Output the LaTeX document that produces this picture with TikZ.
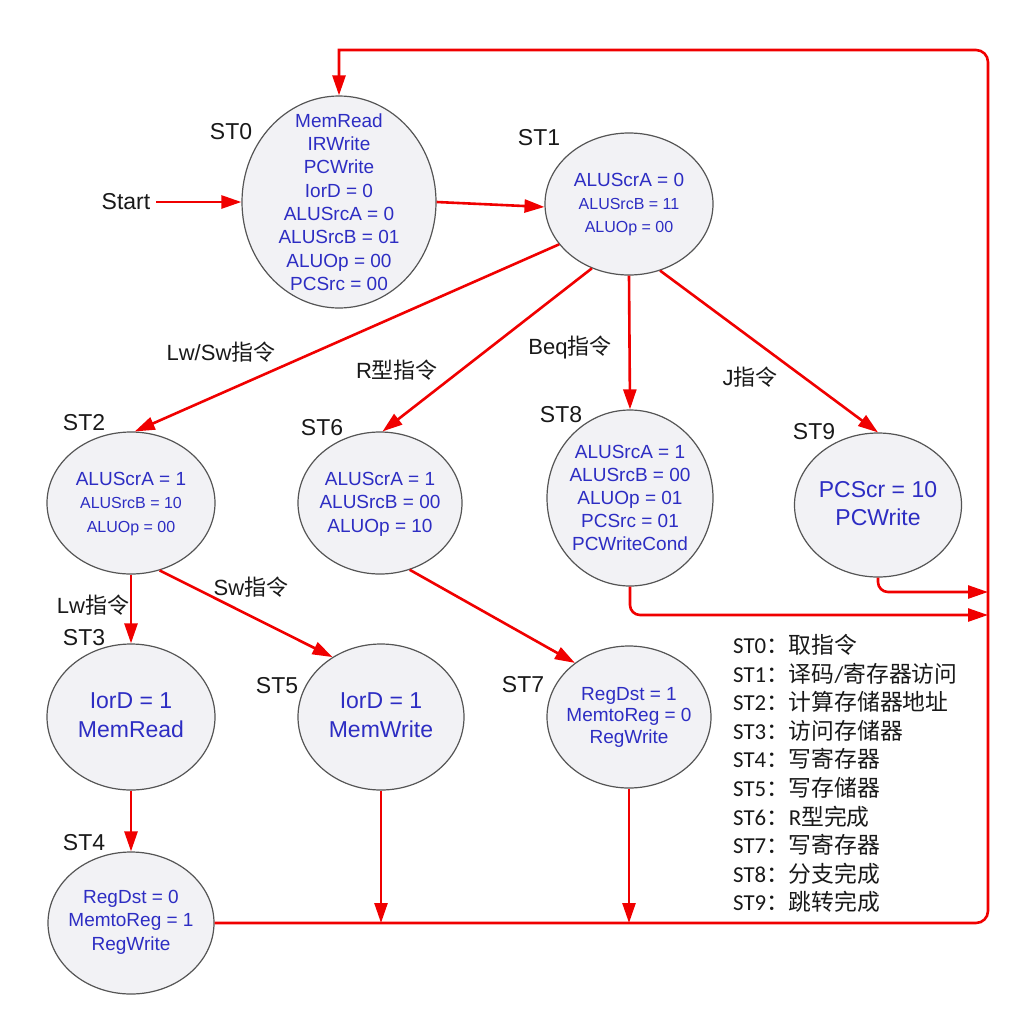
\documentclass[tikz,border=0pt]{standalone}
\usepackage{fontspec}
\setmainfont{Liberation Sans}
\newfontfamily\cjk{Noto Sans CJK SC}
\newfontfamily\calib{Carlito}
\usetikzlibrary{shapes.geometric,arrows.meta}
\definecolor{stblue}{RGB}{45,45,195}
\definecolor{stfill}{RGB}{242,242,245}
\definecolor{stedge}{RGB}{85,85,85}
\definecolor{redc}{RGB}{240,0,0}
\definecolor{labc}{RGB}{25,25,25}
\begin{document}
\begin{tikzpicture}[x=1pt,y=-1pt,
  state/.style={ellipse, draw=stedge, line width=1.2pt, fill=stfill, inner sep=0pt},
  txt/.style={text=stblue, align=center, inner sep=0pt, font=\fontsize{19}{23.3}\selectfont},
  bigtxt/.style={text=stblue, align=center, inner sep=0pt, font=\fontsize{23}{29.5}\selectfont},
  lab/.style={text=labc, inner sep=0pt, font=\fontsize{23}{26}\selectfont},
  elab/.style={text=labc, inner sep=0pt, font=\fontsize{22}{26}\selectfont},
  legend/.style={text=labc, inner sep=0pt, font=\calib\fontsize{22.8}{26}\selectfont, anchor=base west},
  redline/.style={draw=redc, line width=2.6pt},
  arr/.style={redline, -{Triangle[length=20pt,width=13pt]}}
]
\useasboundingbox (0,0) rectangle (1014,1010);

% states
\node[state, minimum width=194pt, minimum height=212pt] (st0) at (339,202) {};
\node[state, minimum width=168pt, minimum height=142pt] (st1) at (629,204) {};
\node[state, minimum width=168pt, minimum height=142pt] (st2) at (131,503) {};
\node[state, minimum width=164pt, minimum height=142pt] (st6) at (380,503) {};
\node[state, minimum width=166pt, minimum height=176pt] (st8) at (630,498) {};
\node[state, minimum width=167pt, minimum height=144pt] (st9) at (878,505) {};
\node[state, minimum width=168pt, minimum height=146pt] (st3) at (131,717) {};
\node[state, minimum width=166pt, minimum height=146pt] (st5) at (381,717) {};
\node[state, minimum width=164pt, minimum height=142pt] (st7) at (629,717) {};
\node[state, minimum width=166pt, minimum height=142pt] (st4) at (131,923) {};

% state texts
\node[txt] (t0) at (339,202) {MemRead\\IRWrite\\PCWrite\\IorD = 0\\ALUSrcA = 0\\ALUSrcB = 01\\ALUOp = 00\\PCSrc = 00};
\node[txt, font=\fontsize{19}{23}\selectfont] (t1) at (629,205) {ALUScrA = 0\\{\fontsize{16}{23}\selectfont ALUSrcB = 11}\\{\fontsize{16}{23}\selectfont ALUOp = 00}};
\node[txt, font=\fontsize{19}{23.5}\selectfont] (t2) at (131,504) {ALUScrA = 1\\{\fontsize{16}{23.5}\selectfont ALUSrcB = 10}\\{\fontsize{16}{23.5}\selectfont ALUOp = 00}};
\node[txt, font=\fontsize{19}{23.5}\selectfont] (t6) at (380,504) {ALUScrA = 1\\ALUSrcB = 00\\ALUOp = 10};
\node[txt, font=\fontsize{19}{23}\selectfont] (t8) at (630,498) {ALUSrcA = 1\\ALUSrcB = 00\\ALUOp = 01\\PCSrc = 01\\PCWriteCond};
\node[bigtxt, font=\fontsize{23}{28}\selectfont] (t9) at (878,504) {PCScr = 10\\PCWrite};
\node[bigtxt] (t3) at (131,715) {IorD = 1\\MemRead};
\node[bigtxt] (t5) at (381,715) {IorD = 1\\MemWrite};
\node[txt, font=\fontsize{19}{21.5}\selectfont] (t7) at (629,717) {RegDst = 1\\MemtoReg = 0\\RegWrite};
\node[txt, font=\fontsize{19}{23.5}\selectfont] (t4) at (131,922) {RegDst = 0\\MemtoReg = 1\\RegWrite};

% state labels
\node[lab] (l0) at (231,132) {ST0};
\node[lab] (l1) at (539,138) {ST1};
\node[lab] (l2) at (84,423) {ST2};
\node[lab] (l6) at (322,428) {ST6};
\node[lab] (l8) at (561,415) {ST8};
\node[lab] (l9) at (814,432) {ST9};
\node[lab] (l3) at (84,638) {ST3};
\node[lab] (l5) at (277,686) {ST5};
\node[lab] (l7) at (523,685) {ST7};
\node[lab] (l4) at (84,843) {ST4};

% edge labels
\node[elab] (e1) at (221,352) {Lw/Sw{\cjk 指令}};
\node[elab] (e2) at (397,370) {R{\cjk 型指令}};
\node[elab] (e3) at (570,347) {Beq{\cjk 指令}};
\node[elab] (e4) at (750,377) {J{\cjk 指令}};
\node[elab] (e5) at (93,605) {Lw{\cjk 指令}};
\node[elab] (e6) at (251,587) {Sw{\cjk 指令}};

% start
\node[lab, inner sep=6pt] (start) at (126,202) {Start};

% coordinates
\coordinate (br) at (988,923);
\coordinate (tr) at (988,50);
\coordinate (tl) at (339,50);
\coordinate (j5) at (381,923);
\coordinate (j7) at (629,923);
\coordinate (r9) at (988,592);
\coordinate (r8) at (988,615);

% connectors
\draw[arr] (start.east) -- (st0.west);
\draw[arr] (st0.east) -- (st1.182);
\draw[arr] (st1.210) -- (st2.87);
\draw[arr] (st1.-120) -- (st6.88);
\draw[arr] (st1.south) -- (st8.north);
\draw[arr] (st1.-65.5) -- (st9.north);
\draw[arr] (st2.south) -- (st3.north);
\draw[arr] (st2.-67) -- (st5.129);
\draw[arr] (st6.-66) -- (st7.135);
\draw[arr] (st3.south) -- (st4.north);
\draw[arr] (st5.south) -- (j5);
\draw[arr] (st7.south) -- (j7);
\draw[arr, rounded corners=10pt] (st9.south) |- (r9);
\draw[arr, rounded corners=10pt] (st8.south) |- (r8);
\draw[arr] (st4.east) [rounded corners=12pt] -- (br) -- (tr) [sharp corners] -- (tl) -- (st0.north);

% legend
\node[legend] (g0) at (733,653.5) {ST0{\cjk ：取指令}};
\node[legend] (g1) at (733,682.1) {ST1{\cjk ：译码}/{\cjk 寄存器访问}};
\node[legend] (g2) at (733,710.7) {ST2{\cjk ：计算存储器地址}};
\node[legend] (g3) at (733,739.3) {ST3{\cjk ：访问存储器}};
\node[legend] (g4) at (733,767.9) {ST4{\cjk ：写寄存器}};
\node[legend] (g5) at (733,796.5) {ST5{\cjk ：写存储器}};
\node[legend] (g6) at (733,825.1) {ST6{\cjk ：}R{\cjk 型完成}};
\node[legend] (g7) at (733,853.7) {ST7{\cjk ：写寄存器}};
\node[legend] (g8) at (733,882.3) {ST8{\cjk ：分支完成}};
\node[legend] (g9) at (733,910.9) {ST9{\cjk ：跳转完成}};
\end{tikzpicture}
\end{document}
